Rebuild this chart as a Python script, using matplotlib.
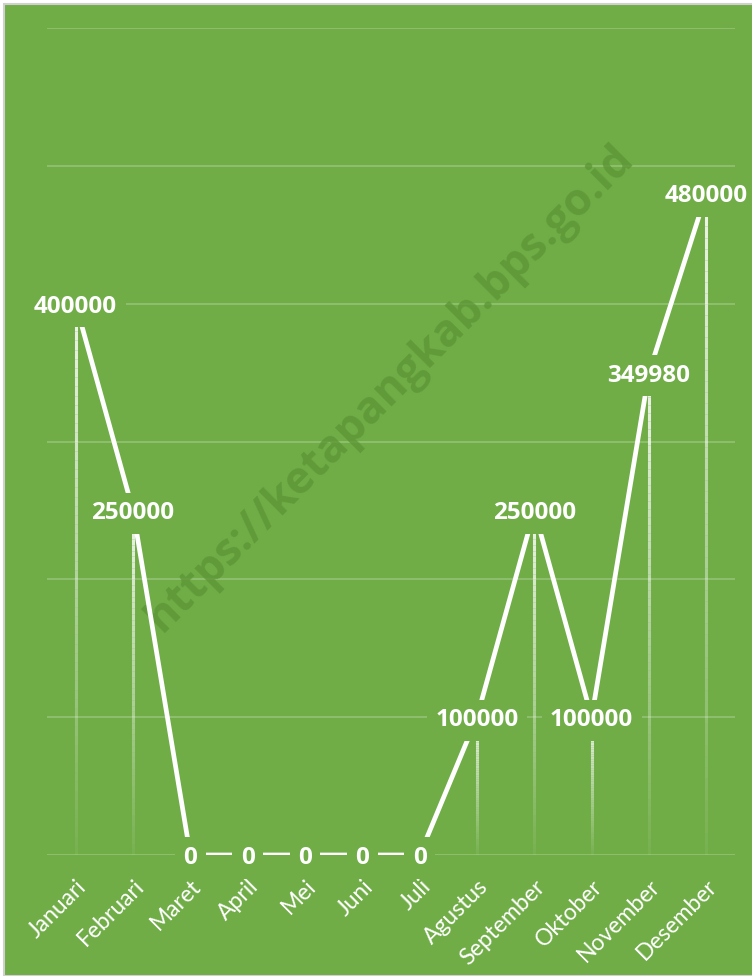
import numpy as np
import matplotlib
matplotlib.use("Agg")
import matplotlib.pyplot as plt
from matplotlib.collections import LineCollection
from matplotlib.patches import Rectangle

# data
bulan = ["Januari", "Februari", "Maret", "April", "Mei", "Juni", "Juli",
         "Agustus", "September", "Oktober", "November", "Desember"]
nilai = [400000, 250000, 0, 0, 0, 0, 0, 100000, 250000, 100000, 349980, 480000]
y_ticks = [0, 100000, 200000, 300000, 400000, 500000, 600000]
watermark = "https://ketapangkab.bps.go.id"

GREEN = "#70AD47"
plt.rcParams['font.family'] = ['Lato', 'DejaVu Sans']
BOLD_FONT = ['Open Sans', 'DejaVu Sans']

fig = plt.figure(figsize=(7.52, 9.76), dpi=100)
fig.patch.set_facecolor("white")
bg = Rectangle((4 / 752, 0), 1, 1 - 4 / 976, transform=fig.transFigure,
               facecolor=GREEN, edgecolor="#D0D0D0", linewidth=1.5, zorder=-5)
fig.patches.append(bg)

ax = fig.add_axes([47 / 752, 1 - 855 / 976, (735 - 47) / 752, (855 - 28) / 976])
ax.set_facecolor("none")
ax.set_zorder(1)
x = np.arange(len(bulan))
ax.set_xlim(-0.5, len(bulan) - 0.5)
ax.set_ylim(0, 600000)

# grid
for yt in y_ticks:
    ax.axhline(yt, color="white", alpha=0.25, linewidth=1.2, zorder=1)

# watermark (under the line)
ax.text(390 / 752, 1 - 388 / 976, watermark, transform=fig.transFigure, rotation=45,
        ha="center", va="center", fontsize=32, fontweight="bold", family=BOLD_FONT,
        color="#5C9636", alpha=0.8, zorder=1.5, clip_on=False)

# drop lines with fading gradient
segs, cols = [], []
n = 60
for xi, v in zip(x, nilai):
    if v <= 0:
        continue
    ys = np.linspace(0, v, n + 1)
    for k in range(n):
        segs.append([(xi, ys[k]), (xi, ys[k + 1])])
        a = 0.05 + 0.85 * (k / n)
        cols.append((1, 1, 1, a))
ax.add_collection(LineCollection(segs, colors=cols, linewidths=2.2, zorder=2))

ax.plot(x, nilai, color="white", linewidth=3.4, zorder=3, solid_capstyle="butt")

for xi, v in zip(x, nilai):
    ax.text(xi, v, f"{v}", ha="center", va="center_baseline", fontsize=17.5,
            fontweight="bold", family=BOLD_FONT,
            color="white", zorder=5, clip_on=False,
            bbox=dict(boxstyle="square,pad=0.35", facecolor=GREEN, edgecolor="none"))

ax.set_xticks(x)
ax.set_xticklabels(bulan, rotation=45, ha="right", rotation_mode="anchor",
                   fontsize=16.5, color="white")
ax.tick_params(axis="x", length=0, pad=15)
ax.set_yticks([])
for s in ax.spines.values():
    s.set_visible(False)

fig.savefig("out.png", dpi=100, facecolor=fig.get_facecolor())
